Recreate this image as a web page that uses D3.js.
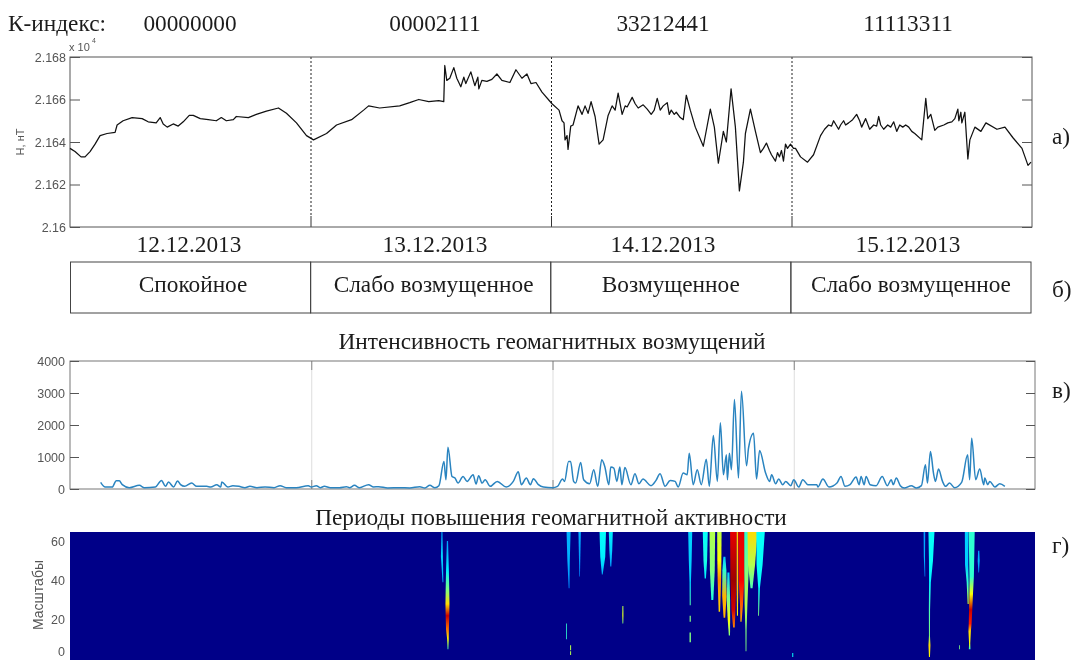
<!DOCTYPE html>
<html>
<head>
<meta charset="utf-8">
<script src="https://cdn.jsdelivr.net/npm/d3@7"></script>
<style>
  html, body { margin: 0; padding: 0; background: #fff; overflow: hidden; }
  svg { display: block; filter: blur(0.5px); }
  .serif { font-family: "Liberation Serif", serif; fill: #1c1c1c; font-size: 23.3px; }
  .sans { font-family: "Liberation Sans", sans-serif; fill: #555; }
</style>
</head>
<body>
<div id="chart"></div>
<script>
// Text of the figure
var kIndex = ["00000000", "00002111", "33212441", "11113311"];
var dates = ["12.12.2013", "13.12.2013", "14.12.2013", "15.12.2013"];
var states = ["Спокойное", "Слабо возмущенное", "Возмущенное", "Слабо возмущенное"];
var days = [0, 1, 2, 3];
var dayLines = [24, 48, 72];

// Panel a: horizontal component, nT
var hHours = [0,.5,1.1,1.5,2,2.5,3,3.7,4.5,4.7,5.3,6.2,7.2,7.8,8.6,9,9.3,9.7,10.3,10.8,11.3,11.9,12.3,13,13.8,14.6,15.1,15.6,16.3,16.6,17.8,18.6,19.6,20.8,21.6,22.6,23.6,24.3,
  25.6,26.6,28.1,29.3,29.8,30.9,32.9,33.9,34.8,35.8,36.8,37.3,37.4,37.6,37.9,38.3,38.6,39,39.3,39.5,40,40.4,40.7,40.8,41.1,41.6,42.1,42.6,43.1,43.9,44.5,45.1,45.6,46,46.5,47.1,48.1,
  48.8,49.1,49.3,49.4,49.6,49.7,49.97,50.2,50.7,51.1,51.4,51.7,52,52.4,52.8,53.2,53.7,54.1,54.4,54.7,55.1,55.4,55.6,56.1,56.4,56.7,57.2,57.6,58,58.3,58.6,58.9,59.2,59.6,59.8,60,60.3,60.5,60.9,61.2,61.5,61.9,62.4,63.2,63.9,64.3,64.7,65.2,65.5,65.97,66.4,66.8,67.2,67.4,67.9,68.4,68.9,69.2,69.5,69.8,70,70.4,70.6,70.8,71,71.2,71.4,71.6,71.9,72.2,72.4,
  72.9,73.6,74.2,74.9,75.3,75.7,76,76.2,76.7,76.9,77.2,77.4,77.7,78.1,78.5,78.8,79,79.4,79.8,80.2,80.5,80.7,80.9,81.2,81.6,81.9,82.2,82.5,82.8,83.1,83.4,83.7,84,84.3,85,85.4,85.6,85.9,86.3,86.6,87.2,87.6,88,88.3,88.6,88.7,88.9,89,89.3,89.6,89.8,90.3,90.9,91.4,92.5,93.3,94.1,95,95.6,95.9];
var hValues = [21637,21635.5,21633,21633,21635.5,21639,21643,21644,21644.5,21648,21650,21651.5,21651,21649.5,21649,21651.5,21648.5,21647,21648.5,21647.5,21649.5,21652.5,21652.5,21651,21650.5,21650,21651.5,21650,21650.5,21652,21651.5,21653,21654.5,21656,21653.5,21649,21643,21641,
  21644,21648,21650.5,21655,21657,21656,21657,21658.5,21660,21659,21659.5,21659,21676,21669,21670,21675,21670,21666,21670.5,21667.5,21673,21666.5,21670.5,21665,21669,21668.5,21669.5,21672,21669,21668,21674,21670,21672,21667.5,21668,21663.5,21658,
  21655,21650,21649,21641,21643,21636.5,21647.5,21648,21657,21653,21657,21653.5,21659,21652,21639,21641,21652.5,21657,21655,21663,21653,21657,21656.5,21661,21658,21656,21657.5,21655.5,21653,21655,21660.5,21655,21657,21658.5,21653,21655,21653,21654,21651.5,21650.5,21662,21655,21647,21638,21655.5,21647,21630,21645,21640,21665,21647,21617,21630.5,21644,21655.5,21645,21635,21637,21639.5,21636,21634,21631,21635,21633,21636,21631,21639,21637,21639,21637,21637,
  21633,21630.5,21634,21643,21646,21648,21647.5,21650,21646,21648,21650,21648,21649,21650.5,21653,21650,21647,21651,21646,21648,21647.5,21652,21648,21646,21648,21647,21649.5,21645,21648,21647,21648,21647,21645,21644,21641,21660.5,21651,21653,21645.5,21647,21648,21649,21649.5,21651,21655.5,21650,21654,21649,21654,21632,21641,21647,21645,21649,21646,21647,21642,21637,21629,21630.5];
var hTicks = [21600, 21620, 21640, 21660, 21680];

// Panel v: intensity of geomagnetic disturbances
var intHours = [3.05,3.5,4.2,4.6,4.9,5.2,5.9,6.9,7.4,8.5,9.1,9.5,9.8,10.3,10.7,11,11.4,12.1,12.6,13.6,14,14.6,15,15.1,15.7,16.2,16.8,17.4,17.9,18.6,19.4,20.3,20.9,21.5,22.5,23.7,24,24.5,24.9,25.3,25.9,26.8,27.5,27.8,28.3,28.8,29.7,30.2,30.7,31.6,32.8,33.8,34.8,35.3,35.8,36.3,36.7,37.2,37.4,37.6,38,38.3,38.6,39.1,39.5,40.1,40.4,40.65,41,41.3,41.8,42.5,43.4,44.1,44.6,44.9,45.4,45.8,46.1,46.6,
  47.1,48,48.5,49,49.2,49.6,49.8,50.1,50.3,50.8,51.1,51.7,52.1,52.5,52.9,53.2,53.6,53.8,54.1,54.4,54.7,54.9,55.2,55.8,56.2,56.6,57,57.8,58.3,58.7,59.2,59.7,60.2,60.5,61,61.4,61.6,62,62.4,62.8,63.3,63.6,64,64.4,64.7,65,65.3,65.4,65.6,65.8,66.1,66.5,66.8,67.3,67.5,68,68.3,68.6,69.2,69.6,69.8,70.2,70.5,70.9,71.2,71.7,72,72.5,72.9,73.4,74.3,74.4,74.9,75.5,76.3,76.7,77.1,77.6,78.2,78.5,78.7,79,79.2,79.6,80.2,80.8,81.3,81.7,81.9,82.2,82.6,83,83.7,84.2,84.7,85.1,85.3,85.6,85.9,86.1,86.4,86.8,87.1,87.5,88,88.7,89.3,89.5,89.7,90.1,90.5,90.9,91,91.3,91.5,92,92.5,93];
var intValues = [207,62,62,259,259,135,41,114,41,62,269,83,218,62,249,135,83,186,83,83,62,135,62,218,62,104,83,41,83,41,62,41,104,41,41,104,62,104,41,83,41,41,72,41,114,41,135,62,72,31,41,31,72,31,114,41,104,860,290,1305,394,342,186,394,238,445,155,414,186,290,83,238,62,238,539,135,342,135,321,135,
  62,41,83,311,238,860,860,238,186,829,290,166,601,83,912,705,135,684,653,238,684,135,673,135,477,166,311,104,269,477,83,269,238,62,497,445,1119,135,601,135,932,83,1668,238,2072,445,1067,290,1119,601,2797,342,3056,725,1274,1740,311,1202,497,238,445,166,311,135,238,104,290,62,290,135,135,62,311,62,186,394,83,135,373,135,394,135,394,135,104,394,104,290,135,342,104,31,104,31,104,756,186,1170,497,238,622,238,83,186,41,207,1067,290,1585,290,622,135,342,135,238,62,166,83];
var intTicks = [0, 1000, 2000, 3000, 4000];

// Panel g: scalogram plumes, each row is [hour, half width in hours, scale, value 0..1]
var plumes = [
  [[37,.05,64.6,.3],[37,.1,52,.33],[37.1,.04,39,.3]],
  [[37.55,.06,60,.28],[37.55,.14,45,.36],[37.55,.18,35,.5],[37.55,.2,28,.66],[37.55,.18,22,.93],[37.55,.14,15,.76],[37.6,.08,10,.62],[37.6,.04,5,.45]],
  [[49.6,.2,64.6,.3],[49.6,.12,50,.3],[49.65,.04,36,.26]],
  [[50.7,.12,64.6,.3],[50.7,.07,52,.28],[50.7,.03,42,.25]],
  [[53,.32,64.6,.38],[53,.25,52,.36],[52.95,.04,43,.3]],
  [[53.8,.2,64.6,.36],[53.8,.14,55,.33],[53.8,.05,47,.28]],
  [[55,.05,27,.55],[55,.06,22,.6],[55,.04,18,.5]],
  [[49.4,.04,18,.42],[49.4,.04,10,.42]],
  [[49.8,.05,7,.55],[49.8,.05,4.5,.55]],
  [[49.8,.05,4,.55],[49.8,.05,2,.55]],
  [[61.7,.2,64.6,.33],[61.7,.14,50,.33],[61.7,.07,39,.33],[61.7,.05,27.4,.45]],
  [[61.7,.06,22,.5],[61.7,.06,19,.5]],
  [[61.7,.07,13.5,.5],[61.7,.07,8.5,.5]],
  [[63.2,.25,64.6,.38],[63.2,.18,50,.4],[63.2,.06,41,.36]],
  [[63.9,.28,64.6,.55],[63.9,.24,45,.5],[63.9,.1,30,.4]],
  [[64.6,.22,64.6,.56],[64.6,.2,50,.63],[64.6,.17,40,.74],[64.6,.07,24,.66]],
  [[65.1,.1,52,.32],[65.1,.2,45,.42],[65.1,.22,32,.7],[65.1,.08,21,.7]],
  [[65.5,.1,44,.33],[65.5,.17,30,.5],[65.55,.12,20,.62],[65.6,.06,12,.5]],
  [[66,.33,64.6,.9],[66,.3,40,.97],[66,.2,25,.92],[66.05,.08,16,.74]],
  [[66.4,.08,64.6,.68],[66.4,.08,35,.68],[66.4,.05,22,.62]],
  [[66.8,.33,64.6,.9],[66.8,.28,40,.88],[66.8,.14,27,.78],[66.75,.06,19,.7]],
  [[67.3,.22,64.6,.42],[67.3,.22,45,.5],[67.25,.14,28,.55],[67.25,.06,15,.5],[67.25,.04,4,.5]],
  [[67.9,.5,64.6,.66],[67.8,.35,48,.55],[67.8,.1,36,.45]],
  [[68.7,.42,64.6,.38],[68.6,.3,48,.38],[68.55,.08,36,.38],[68.5,.04,22,.5]],
  [[85,.08,64.6,.28],[85,.06,52,.3],[85.05,.03,42,.26]],
  [[85.7,.3,64.6,.38],[85.65,.2,50,.38],[85.55,.09,39,.36],[85.5,.06,25,.45],[85.5,.05,12,.5],[85.5,.1,7,.66],[85.5,.05,1,.62]],
  [[89.2,.18,64.6,.33],[89.2,.16,48,.33],[89.3,.1,39,.42],[89.35,.05,28,.6]],
  [[89.7,.3,64.6,.42],[89.7,.22,42,.42],[89.65,.18,33,.62],[89.6,.16,25,.93],[89.55,.14,18,.85],[89.5,.12,14,.66],[89.5,.06,8,.62],[89.5,.08,5,.42]],
  [[90.4,.06,55,.28],[90.4,.1,50,.3],[90.4,.03,44,.26]],
  [[88.5,.04,7,.5],[88.5,.04,5,.5]],
  [[71.9,.05,3,.38],[71.9,.05,1,.38]]
];
var scaleTicks = [0, 20, 40, 60];

var sectionLabels = ["а)", "б)", "в)", "г)"];

var width = 1074, height = 660;
var svg = d3.select("#chart").append("svg")
  .attr("width", width)
  .attr("height", height);

// Scales
var xA = d3.scaleLinear().domain([0, 96]).range([70, 1032]);
var xV = d3.scaleLinear().domain([0, 96]).range([70, 1035]);
var xDay = d3.scaleLinear().domain([0, 4]).range([70.5, 1031]);
var yH = d3.scaleLinear().domain([21600, 21680]).range([227, 57]);
var yInt = d3.scaleLinear().domain([0, 4000]).range([489, 361]);
var yScale = d3.scaleLinear().domain([0, 64.6]).range([659, 532]);
var jet = d3.scaleLinear()
  .domain([0, .125, .375, .625, .875, 1])
  .range(["#000088", "#0000ff", "#00ffff", "#ffff00", "#ff0000", "#800000"]);

// Top row of k-indices
svg.append("text").attr("class", "serif").attr("x", 8).attr("y", 31).text("К-индекс:");
svg.selectAll(".kidx").data(days).enter().append("text")
  .attr("class", "serif kidx")
  .attr("x", function(d) { return [190, 435, 663, 908][d]; })
  .attr("y", 31)
  .attr("text-anchor", "middle")
  .text(function(d) { return kIndex[d]; });

// Panel a
var axisColor = "#555";
function styleAxis(g) {
  g.selectAll("path").attr("stroke", axisColor);
  g.selectAll("line").attr("stroke", axisColor);
  g.selectAll("text").style("font-family", "'Liberation Sans', sans-serif").attr("fill", axisColor);
  g.attr("font-size", 12.5);
}

svg.selectAll(".dayA").data(dayLines).enter().append("line")
  .attr("x1", function(d) { return xA(d) + .5; })
  .attr("x2", function(d) { return xA(d) + .5; })
  .attr("y1", 57).attr("y2", 216)
  .attr("stroke", "#222").attr("stroke-dasharray", "2,2");
svg.selectAll(".dayA2").data(dayLines).enter().append("line")
  .attr("x1", function(d) { return xA(d) + .5; })
  .attr("x2", function(d) { return xA(d) + .5; })
  .attr("y1", 216).attr("y2", 227)
  .attr("stroke", "#333");

svg.append("rect").attr("x", 70).attr("y", 57).attr("width", 962).attr("height", 170)
  .attr("fill", "none").attr("stroke", axisColor);
svg.append("g").attr("transform", "translate(70,0)")
  .call(d3.axisRight(yH).tickValues(hTicks).tickSize(10).tickFormat(""))
  .call(styleAxis).select(".domain").remove();
svg.append("g").attr("transform", "translate(1032,0)")
  .call(d3.axisLeft(yH).tickValues(hTicks).tickSize(10).tickFormat(""))
  .call(styleAxis).select(".domain").remove();
svg.append("g").attr("transform", "translate(70,0)")
  .call(d3.axisLeft(yH).tickValues(hTicks).tickSize(0).tickPadding(4)
    .tickFormat(function(d) { return d3.format("~g")(d / 10000); }))
  .call(styleAxis).select(".domain").remove();

var lineH = d3.line()
  .x(function(d) { return xA(d); })
  .y(function(d, i) { return yH(hValues[i]); });
svg.append("path").attr("d", lineH(hHours))
  .attr("fill", "none").attr("stroke", "#111").attr("stroke-width", 1.25)
  .attr("stroke-linejoin", "round");

svg.append("text").attr("class", "sans").attr("x", 69).attr("y", 51)
  .style("font-size", "11px").text("x 10");
svg.append("text").attr("class", "sans").attr("x", 92).attr("y", 43)
  .style("font-size", "7px").text("4");
svg.append("text").attr("class", "sans")
  .attr("transform", "translate(24,142) rotate(-90)")
  .attr("text-anchor", "middle").style("font-size", "11px").text("H, нТ");

// Dates
svg.selectAll(".date").data(days).enter().append("text")
  .attr("class", "serif date")
  .attr("x", function(d) { return [189, 435, 663, 908][d]; })
  .attr("y", 251.5)
  .attr("text-anchor", "middle")
  .text(function(d) { return dates[d]; });

// State table
svg.selectAll(".state").data(days).enter().append("rect")
  .attr("x", function(d) { return xDay(d); })
  .attr("y", 262)
  .attr("width", function(d) { return xDay(d + 1) - xDay(d); })
  .attr("height", 51)
  .attr("fill", "none").attr("stroke", "#444");
svg.selectAll(".stateText").data(days).enter().append("text")
  .attr("class", "serif stateText")
  .attr("x", function(d) { return (xDay(d) + xDay(d + 1)) / 2 + [2.5, 3, 0, 0][d]; })
  .attr("y", 291.5)
  .attr("text-anchor", "middle")
  .text(function(d) { return states[d]; });

// Panel v
svg.append("text").attr("class", "serif").attr("x", 552).attr("y", 349)
  .attr("text-anchor", "middle")
  .text("Интенсивность геомагнитных возмущений");
svg.selectAll(".dayV").data(dayLines).enter().append("line")
  .attr("x1", function(d) { return xV(d) + .5; })
  .attr("x2", function(d) { return xV(d) + .5; })
  .attr("y1", 361).attr("y2", 489)
  .attr("stroke", "#ddd");
svg.selectAll(".dayVt").data(dayLines).enter().append("line")
  .attr("x1", function(d) { return xV(d) + .5; })
  .attr("x2", function(d) { return xV(d) + .5; })
  .attr("y1", 361).attr("y2", 370)
  .attr("stroke", "#888");
svg.selectAll(".dayVb").data(dayLines).enter().append("line")
  .attr("x1", function(d) { return xV(d) + .5; })
  .attr("x2", function(d) { return xV(d) + .5; })
  .attr("y1", 480).attr("y2", 489)
  .attr("stroke", "#888");

svg.append("rect").attr("x", 70).attr("y", 361).attr("width", 965).attr("height", 128)
  .attr("fill", "none").attr("stroke", "#777");
svg.append("g").attr("transform", "translate(70,0)")
  .call(d3.axisRight(yInt).tickValues(intTicks).tickSize(9).tickFormat(""))
  .call(styleAxis).select(".domain").remove();
svg.append("g").attr("transform", "translate(1035,0)")
  .call(d3.axisLeft(yInt).tickValues(intTicks).tickSize(9).tickFormat(""))
  .call(styleAxis).select(".domain").remove();
svg.append("g").attr("transform", "translate(70,0)")
  .call(d3.axisLeft(yInt).tickValues(intTicks).tickSize(0).tickPadding(5).tickFormat(d3.format("d")))
  .call(styleAxis).select(".domain").remove();

var lineInt = d3.line()
  .curve(d3.curveMonotoneX)
  .x(function(d) { return xV(d); })
  .y(function(d, i) { return yInt(intValues[i]); });
svg.append("path").attr("d", lineInt(intHours))
  .attr("fill", "none").attr("stroke", "#2a84c0").attr("stroke-width", 1.5);

// Panel g
svg.append("text").attr("class", "serif").attr("x", 551).attr("y", 525)
  .attr("text-anchor", "middle")
  .text("Периоды повышения геомагнитной активности");
svg.append("rect").attr("x", 70).attr("y", 532).attr("width", 965).attr("height", 128)
  .attr("fill", jet(0));

var defs = svg.append("defs");
plumes.forEach(function(rows, i) {
  var top = yScale(rows[0][2]), bottom = yScale(rows[rows.length - 1][2]);
  var grad = defs.append("linearGradient")
    .attr("id", "plume" + i)
    .attr("gradientUnits", "userSpaceOnUse")
    .attr("x1", 0).attr("x2", 0).attr("y1", top).attr("y2", bottom);
  rows.forEach(function(r) {
    grad.append("stop")
      .attr("offset", (yScale(r[2]) - top) / (bottom - top))
      .attr("stop-color", jet(r[3]));
  });
  var area = d3.area()
    .x0(function(r) { return xV(r[0] - r[1]); })
    .x1(function(r) { return xV(r[0] + r[1]); })
    .y(function(r) { return yScale(r[2]); });
  svg.append("path").attr("d", area(rows)).attr("fill", "url(#plume" + i + ")");
});

svg.append("g").attr("transform", "translate(70,0)")
  .call(d3.axisLeft(yScale).tickValues(scaleTicks).tickSize(0).tickPadding(5))
  .call(styleAxis)
  .call(function(g) {
    g.select(".domain").remove();
    // the page ends at the zero tick, keep its label on the page
    g.selectAll("text").filter(function(d) { return d === 0; }).attr("dy", "-0.3em");
  });
svg.append("text").attr("class", "sans")
  .attr("transform", "translate(43,595) rotate(-90)")
  .attr("text-anchor", "middle").style("font-size", "14px").text("Масштабы");

// Panel letters
svg.selectAll(".letter").data(sectionLabels).enter().append("text")
  .attr("class", "serif letter")
  .attr("x", 1052)
  .attr("y", function(d, i) { return [144, 297, 398, 553][i]; })
  .text(function(d) { return d; });
</script>
</body>
</html>
